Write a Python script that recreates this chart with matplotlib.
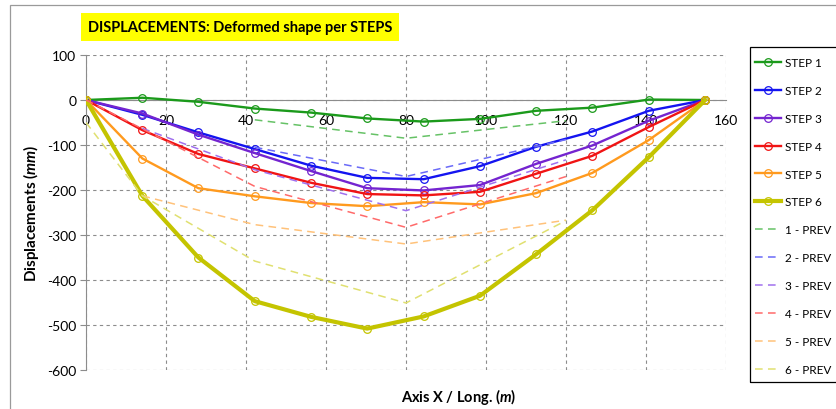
import matplotlib
matplotlib.use("Agg")
import matplotlib.pyplot as plt
from matplotlib.patches import Rectangle

# Node positions along the deck (m)
nodes_x = [0, 14.1, 28.1, 42.2, 56.3, 70.3, 84.4, 98.5, 112.5, 126.6, 140.7, 154.8]

# Deformed shape per construction step (mm)
step1 = [0, 5, -4, -19, -28, -41, -48, -42, -24, -17, 1, 0]
step2 = [0, -33, -72, -109, -146, -173, -176, -147, -104, -70, -24, 0]
step3 = [0, -30, -77, -118, -158, -196, -201, -189, -142, -101, -46, 0]
step4 = [0, -67, -120, -152, -184, -209, -212, -204, -164, -124, -60, 0]
step5 = [0, -130, -196, -214, -229, -236, -227, -232, -207, -162, -89, 0]
step6 = [0, -213, -350, -447, -482, -508, -481, -435, -343, -245, -127, 0]

# Predicted shapes (mm)
prev1_x = [42.2, 80, 120]
prev1_y = [-44, -85, -46]
prev2_x = [42.2, 80, 120]
prev2_y = [-105, -170, -88]
prev3_x = [14.1, 42.2, 80, 120]
prev3_y = [-63, -155, -246, -133]
prev4_x = [0, 42.2, 80, 120]
prev4_y = [0, -192, -283, -170]
prev5_x = [14.1, 42.2, 80, 120]
prev5_y = [-213, -277, -320, -267]
prev6_x = [0, 14.1, 42.2, 80, 120]
prev6_y = [-50, -213, -358, -451, -268]

step_labels = ["STEP 1", "STEP 2", "STEP 3", "STEP 4", "STEP 5", "STEP 6"]
prev_labels = ["1 - PREV", "2 - PREV", "3 - PREV", "4 - PREV", "5 - PREV", "6 - PREV"]

step_colors = ["#1b9a1b", "#1414f0", "#7424d0", "#f01414", "#ff9a1e", "#c4c400"]
prev_colors = ["#66c266", "#6a6af8", "#a070ee", "#ff6a6a", "#ffc27a", "#e0e070"]
step_widths = [1.7, 1.7, 1.7, 1.7, 1.7, 3.0]

FONT = ["Lato", "DejaVu Sans"]
plt.rcParams["font.family"] = FONT
plt.rcParams["axes.unicode_minus"] = False
plt.rcParams["mathtext.fontset"] = "custom"
plt.rcParams["mathtext.bfit"] = "Lato:bold:italic"

W, H = 836, 410
fig = plt.figure(figsize=(W / 100, H / 100), dpi=100)
ax = fig.add_axes([86 / W, 1 - 371 / H, (726 - 86) / W, (371 - 56) / H])

# outer chart frame
fig.add_artist(Rectangle((10 / W, -0.05), 1.2, 1 - 6 / H + 0.05,
                         transform=fig.transFigure, fill=False,
                         edgecolor="#9a9a9a", linewidth=0.9))

steps = [step1, step2, step3, step4, step5, step6]
prevs = [(prev1_x, prev1_y), (prev2_x, prev2_y), (prev3_x, prev3_y),
         (prev4_x, prev4_y), (prev5_x, prev5_y), (prev6_x, prev6_y)]

handles = []
for vals, col, lw, lab in zip(steps, step_colors, step_widths, step_labels):
    h, = ax.plot(nodes_x, vals, color=col, lw=lw, marker="o", ms=5.5,
                 mfc="none", mec=col, mew=0.9, label=lab, zorder=3,
                 solid_joinstyle="round")
    handles.append(h)
for (px, py), col, lab in zip(prevs, prev_colors, prev_labels):
    h, = ax.plot(px, py, color=col, lw=1.1, ls=(0, (5, 3.5)), label=lab, zorder=4)
    handles.append(h)

ax.set_xlim(0, 160)
ax.set_ylim(-600, 100)
ax.set_xticks(range(0, 161, 20))
ax.set_yticks(range(-600, 101, 100))

ax.grid(True, color="#8c8c8c", ls=(0, (3, 3)), lw=0.8)
ax.set_axisbelow(True)

for s in ["top", "right"]:
    ax.spines[s].set_visible(False)
ax.spines["left"].set_color("#8c8c8c")
ax.spines["bottom"].set_position(("data", 0))
ax.spines["bottom"].set_color("#8c8c8c")
ax.spines["bottom"].set_zorder(2)

ax.tick_params(axis="y", length=4, color="#8c8c8c", labelsize=10, pad=3)
ax.tick_params(axis="x", length=0, labelsize=10, pad=10)

ax.set_ylabel(r"Displacements ($\mathbfit{mm}$)", fontsize=11, fontweight="bold")
ax.yaxis.set_label_coords(-0.07, 0.5)
fig.text(459 / W, 1 - 397 / H, r"Axis X / Long. ($\mathbfit{m}$)",
         ha="center", va="center", fontsize=10.5, fontweight="bold")

fig.text(240 / W, 1 - 28 / H, "DISPLACEMENTS: Deformed shape per STEPS",
         ha="center", va="center", fontsize=10.5, fontweight="bold",
         bbox=dict(boxstyle="square,pad=0.5", facecolor="#ffff00", edgecolor="none"))

# legend box (runs past the right edge)
fig.add_artist(Rectangle((750 / W, 1 - 383 / H), 0.2, (383 - 48) / H,
                         transform=fig.transFigure, fill=False,
                         edgecolor="black", linewidth=0.9))
leg = fig.legend(handles=handles, loc="upper left",
                 bbox_to_anchor=(755 / W, 1 - 58 / H), frameon=False,
                 fontsize=8.5, handlelength=2.2, handletextpad=0.3,
                 labelspacing=1.43, borderpad=0, borderaxespad=0)

fig.savefig("out.png", dpi=100)
